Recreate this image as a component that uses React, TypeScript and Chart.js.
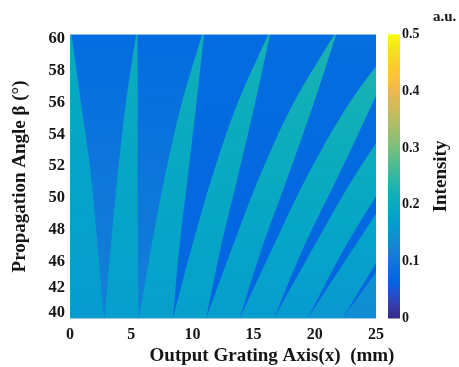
import React, { useEffect, useRef } from 'react';
import { Chart, registerables } from 'chart.js';

Chart.register(...registerables);

// ---------- axes ----------
const X_MIN = 0;
const X_MAX = 25;
const X_STEP = 5;
const Y_MIN = 42.4;
const Y_MAX = 60.3;
const Y_TICK_VALUES = [60, 58, 56, 54, 52, 50, 48, 46, 44.31, 42.74];
const Y_TICK_LABELS = ['60', '58', '56', '54', '52', '50', '48', '46', '42', '40'];
const CB_MIN = 0;
const CB_MAX = 0.5;
const CB_STEP = 0.1;

// ---------- heat-map data ----------
// propagation-angle levels (top -> bottom) at which the band edges were read
const BETA_LEVELS = [60.3, 56, 51.4, 47, 42.4];
// left edge (mm) of each bright band at those levels
const BAND_LEFT = [
  [0, 0, 0, 0, 0],
  [5.4, 4.57, 3.88, 3.33, 2.8],
  [10.8, 9.14, 7.76, 6.66, 5.62],
  [16.2, 13.71, 11.64, 9.99, 8.4],
  [21.6, 18.28, 15.52, 13.32, 11.12],
  [27.0, 22.85, 19.4, 16.65, 13.85],
  [32.4, 27.42, 23.28, 19.98, 16.65],
  [37.8, 31.99, 27.16, 23.31, 19.4],
  [43.2, 36.56, 31.04, 26.64, 22.25],
];
// right edge (mm) of each bright band
const BAND_RIGHT = [
  [0.12, 0.9, 1.72, 2.26, 2.8],
  [5.52, 5.53, 5.53, 5.55, 5.62],
  [10.95, 10.33, 9.63, 8.95, 8.4],
  [16.35, 15.13, 13.73, 12.35, 11.12],
  [21.75, 19.93, 17.83, 15.75, 13.85],
  [27.15, 24.73, 21.93, 19.15, 16.65],
  [32.55, 29.53, 26.03, 22.55, 19.4],
  [37.95, 34.33, 30.13, 25.95, 22.25],
  [43.35, 39.13, 34.23, 29.35, 25.0],
];
// intensity (a.u.) of bright bands at the top / bottom of the plot
const BAND_I_TOP = [0.2, 0.21, 0.215, 0.22, 0.23, 0.235, 0.235, 0.23, 0.22];
const BAND_I_BOTTOM = [0.165, 0.17, 0.172, 0.175, 0.17, 0.168, 0.165, 0.16, 0.14];
// intensity of dark gaps (between band k and band k+1)
const GAP_I_TOP = [0.078, 0.078, 0.078, 0.08, 0.082, 0.085, 0.088, 0.09];
const GAP_I_BOTTOM = [0.12, 0.115, 0.07, 0.065, 0.065, 0.065, 0.065, 0.068];
const BASE_I = [0.08, 0.07];

// parula colour map stops: [t, r, g, b]
const PARULA: number[][] = [
  [0, 0.2081, 0.1663, 0.5292],
  [3 / 63, 0.2081, 0.2386, 0.6771],
  [6 / 63, 0.1253, 0.3242, 0.8303],
  [8 / 63, 0.0117, 0.3875, 0.882],
  [10 / 63, 0.0165, 0.4266, 0.8786],
  [12 / 63, 0.0498, 0.4586, 0.8641],
  [15 / 63, 0.0779, 0.504, 0.8384],
  [18 / 63, 0.0641, 0.557, 0.824],
  [21 / 63, 0.0265, 0.6137, 0.8135],
  [24 / 63, 0.0228, 0.6535, 0.7768],
  [27 / 63, 0.059, 0.6838, 0.7254],
  [30 / 63, 0.1453, 0.7098, 0.6646],
  [33 / 63, 0.2586, 0.7317, 0.5954],
  [36 / 63, 0.3953, 0.7459, 0.5244],
  [39 / 63, 0.53, 0.7491, 0.4661],
  [43 / 63, 0.6834, 0.7435, 0.4044],
  [47 / 63, 0.8185, 0.7327, 0.3498],
  [51 / 63, 0.945, 0.7261, 0.2886],
  [54 / 63, 0.999, 0.7653, 0.2164],
  [57 / 63, 0.9789, 0.8271, 0.1633],
  [60 / 63, 0.9589, 0.8949, 0.1132],
  [1, 0.9763, 0.9831, 0.0538],
];

const SERIF = '"Liberation Serif", "Times New Roman", serif';
const TEXT = '#151515';

function parula(t: number): string {
  const u = Math.max(0, Math.min(1, t));
  let i = 0;
  while (i < PARULA.length - 2 && u > PARULA[i + 1][0]) i++;
  const a = PARULA[i];
  const b = PARULA[i + 1];
  const f = (u - a[0]) / (b[0] - a[0] || 1);
  const c = [1, 2, 3].map((k) => Math.round(255 * (a[k] + (b[k] - a[k]) * f)));
  return `rgb(${c[0]},${c[1]},${c[2]})`;
}

function makeCurve(levels: number[], xs: number[]) {
  const pts = levels.map((b, i) => [b, xs[i]]).sort((p, q) => p[0] - q[0]);
  const ys = pts.map((p) => p[0]);
  const vs = pts.map((p) => p[1]);
  const n = ys.length;
  const d: number[] = [];
  for (let i = 0; i < n - 1; i++) d.push((vs[i + 1] - vs[i]) / (ys[i + 1] - ys[i]));
  const m: number[] = new Array(n);
  m[0] = d[0];
  m[n - 1] = d[n - 2];
  for (let i = 1; i < n - 1; i++) m[i] = d[i - 1] * d[i] <= 0 ? 0 : (d[i - 1] + d[i]) / 2;
  return (b: number) => {
    let i = 0;
    while (i < n - 2 && b > ys[i + 1]) i++;
    const h = ys[i + 1] - ys[i];
    const t = (b - ys[i]) / h;
    const t2 = t * t;
    const t3 = t2 * t;
    return (
      (2 * t3 - 3 * t2 + 1) * vs[i] +
      (t3 - 2 * t2 + t) * h * m[i] +
      (-2 * t3 + 3 * t2) * vs[i + 1] +
      (t3 - t2) * h * m[i + 1]
    );
  };
}

function vGrad(ctx: CanvasRenderingContext2D, yTop: number, yBot: number, iTop: number, iBot: number) {
  const g = ctx.createLinearGradient(0, yTop, 0, yBot);
  for (let s = 0; s <= 6; s++) {
    const f = s / 6;
    g.addColorStop(f, parula((iTop + (iBot - iTop) * f) / CB_MAX));
  }
  return g;
}

const heatPlugin = {
  id: 'heatRegions',
  beforeDatasetsDraw(chart: any) {
    const { ctx, chartArea: a, scales } = chart;
    const xs = scales.x;
    const ys = scales.y;
    const bTop = BETA_LEVELS[0];
    const bBot = BETA_LEVELS[BETA_LEVELS.length - 1];
    const yTop = ys.getPixelForValue(bTop);
    const yBot = ys.getPixelForValue(bBot);
    const lefts = BAND_LEFT.map((r) => makeCurve(BETA_LEVELS, r));
    const rights = BAND_RIGHT.map((r) => makeCurve(BETA_LEVELS, r));
    const N = 120;
    const region = (lc: (b: number) => number, rc: (b: number) => number) => {
      ctx.beginPath();
      for (let j = 0; j <= N; j++) {
        const b = bTop - ((bTop - bBot) * j) / N;
        const px = xs.getPixelForValue(lc(b));
        const py = ys.getPixelForValue(b);
        if (j === 0) ctx.moveTo(px, py);
        else ctx.lineTo(px, py);
      }
      for (let j = N; j >= 0; j--) {
        const b = bTop - ((bTop - bBot) * j) / N;
        ctx.lineTo(xs.getPixelForValue(rc(b)), ys.getPixelForValue(b));
      }
      ctx.closePath();
    };
    ctx.save();
    ctx.beginPath();
    ctx.rect(a.left, a.top, a.right - a.left, a.bottom - a.top);
    ctx.clip();
    ctx.fillStyle = vGrad(ctx, yTop, yBot, BASE_I[0], BASE_I[1]);
    ctx.fillRect(a.left, a.top, a.right - a.left, a.bottom - a.top);
    for (let k = 0; k < GAP_I_TOP.length; k++) {
      region(rights[k], lefts[k + 1]);
      ctx.fillStyle = vGrad(ctx, yTop, yBot, GAP_I_TOP[k], GAP_I_BOTTOM[k]);
      ctx.fill();
    }
    for (let k = 0; k < BAND_LEFT.length; k++) {
      region(lefts[k], rights[k]);
      ctx.fillStyle = vGrad(ctx, yTop, yBot, BAND_I_TOP[k], BAND_I_BOTTOM[k]);
      ctx.fill();
    }
    ctx.restore();
  },
  afterDraw(chart: any) {
    const { ctx, chartArea: a, scales } = chart;
    const cb = scales.cb;
    const y0 = cb.getPixelForValue(CB_MIN);
    const y1 = cb.getPixelForValue(CB_MAX);
    const g = ctx.createLinearGradient(0, y0, 0, y1);
    for (let s = 0; s <= 40; s++) g.addColorStop(s / 40, parula(s / 40));
    ctx.save();
    ctx.fillStyle = g;
    ctx.fillRect(cb.left + 12, y1, 12, y0 - y1);

    ctx.fillStyle = TEXT;
    ctx.font = `bold 19px ${SERIF}`;
    ctx.textAlign = 'center';
    ctx.textBaseline = 'alphabetic';
    ctx.fillText('Output Grating Axis(x)  (mm)', 272, 361);

    ctx.save();
    ctx.translate(446, (a.top + a.bottom) / 2);
    ctx.rotate(-Math.PI / 2);
    ctx.textAlign = 'center';
    ctx.fillText('Intensity', 0, 0);
    ctx.restore();

    ctx.font = `bold 15px ${SERIF}`;
    ctx.textAlign = 'left';
    ctx.fillText('a.u.', 433, 21);
    ctx.restore();
  },
};

export default function App() {
  const ref = useRef<HTMLCanvasElement | null>(null);
  useEffect(() => {
    document.body.style.margin = '0';
    const canvas = ref.current;
    if (!canvas) return;
    const tickFont = { family: SERIF, size: 16, weight: 'bold' as const };
    const chart = new Chart(canvas, {
      type: 'scatter',
      data: { datasets: [] },
      options: {
        animation: false,
        responsive: false,
        maintainAspectRatio: false,
        devicePixelRatio: 1,
        layout: { padding: { top: 21.5, left: 0, right: 0, bottom: 0 } },
        plugins: { legend: { display: false }, tooltip: { enabled: false } },
        scales: {
          x: {
            type: 'linear',
            position: 'bottom',
            min: X_MIN,
            max: X_MAX,
            afterFit: (s: any) => {
              s.height = 48.5;
            },
            grid: { display: false, drawTicks: false },
            border: { display: false },
            ticks: {
              stepSize: X_STEP,
              autoSkip: false,
              maxRotation: 0,
              padding: 7,
              color: TEXT,
              font: tickFont,
            },
          },
          y: {
            type: 'linear',
            position: 'left',
            min: Y_MIN,
            max: Y_MAX,
            afterFit: (s: any) => {
              s.width = 70;
            },
            afterBuildTicks: (s: any) => {
              s.ticks = Y_TICK_VALUES.map((v) => ({ value: v }));
            },
            grid: { display: false, drawTicks: false },
            border: { display: false },
            ticks: {
              autoSkip: false,
              padding: 5,
              color: TEXT,
              font: { family: SERIF, size: 16.5, weight: 'bold' as const },
              callback: (v: any) => {
                const i = Y_TICK_VALUES.indexOf(Number(v));
                return i >= 0 ? Y_TICK_LABELS[i] : '';
              },
            },
            title: {
              display: true,
              text: 'Propagation Angle β (°)',
              color: TEXT,
              font: { family: SERIF, size: 19, weight: 'bold' as const },
              padding: { top: 9, bottom: 0 },
            },
          },
          cb: {
            type: 'linear',
            axis: 'y',
            position: 'right',
            min: CB_MIN,
            max: CB_MAX,
            afterFit: (s: any) => {
              s.width = 83;
            },
            grid: { display: false, drawTicks: false },
            border: { display: false },
            ticks: {
              stepSize: CB_STEP,
              padding: 26,
              color: TEXT,
              font: { family: SERIF, size: 14, weight: 'bold' as const },
              callback: (v: any) => (Number(v) === 0 ? '0' : Number(v).toFixed(1)),
            },
          },
        },
      } as any,
      plugins: [heatPlugin],
    });
    return () => chart.destroy();
  }, []);
  return (
    <div style={{ width: 459, height: 367, overflow: 'hidden' }}>
      <canvas ref={ref} width={459} height={367} style={{ display: 'block', width: 459, height: 367 }} />
    </div>
  );
}
